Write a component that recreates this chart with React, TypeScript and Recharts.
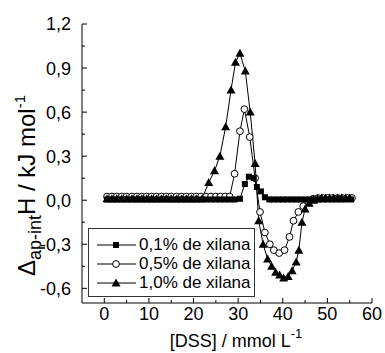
import { LineChart, Line, XAxis, YAxis, Legend } from 'recharts';

// [DSS] / mmol L-1 and enthalpy (kJ mol-1)
const conc01 = [0.6, 1.7, 2.8, 3.9, 5.0, 6.2, 7.3, 8.4, 9.5, 10.6, 11.7, 12.8, 13.9, 15.0, 16.2, 17.3, 18.4, 19.5, 20.6, 21.7, 22.8, 23.9, 25.0, 26.0, 27.1, 28.1, 29.2, 30.4, 31.5, 32.4, 33.5, 34.2, 35.1, 36.0, 37.0, 38.0, 39.0, 40.0, 41.0, 42.0, 43.0, 44.0, 45.0, 46.0, 47.0, 48.0, 49.0, 50.0, 51.0, 52.0, 53.0, 54.0, 55.3];
const dh01 = [0.005, 0.005, 0.005, 0.005, 0.005, 0.005, 0.005, 0.005, 0.005, 0.005, 0.005, 0.005, 0.005, 0.005, 0.005, 0.005, 0.005, 0.005, 0.005, 0.005, 0.005, 0.005, 0.005, 0.005, 0.005, 0.005, 0.005, 0.01, 0.11, 0.16, 0.15, 0.09, 0.06, 0.02, 0.005, 0.005, 0.005, 0.005, 0.005, 0.005, 0.005, 0.005, 0.005, 0.005, 0.005, 0.005, 0.005, 0.005, 0.005, 0.005, 0.005, 0.005, 0.005];

const conc05 = [0.6, 1.7, 2.8, 3.9, 5.0, 6.2, 7.3, 8.4, 9.5, 10.6, 11.7, 12.8, 13.9, 15.0, 16.2, 17.3, 18.4, 19.5, 20.6, 21.7, 22.8, 23.9, 25.0, 26.0, 27.1, 28.1, 29.2, 30.4, 31.4, 32.6, 33.8, 34.9, 36.0, 37.1, 38.0, 39.2, 40.4, 41.5, 42.4, 43.5, 44.6, 45.7, 46.8, 47.9, 49.0, 50.1, 51.2, 52.3, 53.4, 54.5, 55.5];
const dh05 = [0.025, 0.025, 0.025, 0.025, 0.025, 0.025, 0.025, 0.025, 0.025, 0.025, 0.025, 0.025, 0.025, 0.025, 0.025, 0.025, 0.025, 0.025, 0.025, 0.025, 0.025, 0.025, 0.025, 0.025, 0.025, 0.025, 0.18, 0.47, 0.62, 0.43, 0.15, -0.08, -0.22, -0.3, -0.34, -0.36, -0.34, -0.25, -0.14, -0.08, -0.04, -0.01, 0.01, 0.015, 0.015, 0.015, 0.015, 0.015, 0.015, 0.015, 0.015];

const conc10 = [0.6, 1.7, 2.8, 3.9, 5.0, 6.2, 7.3, 8.4, 9.5, 10.6, 11.7, 12.8, 13.9, 15.0, 16.2, 17.3, 18.4, 19.5, 20.6, 21.9, 23.4, 24.7, 25.9, 27.2, 28.4, 29.4, 30.4, 31.6, 32.7, 33.8, 34.6, 35.6, 36.6, 37.5, 38.4, 39.3, 40.2, 41.2, 42.1, 43.0, 43.6, 44.3, 45.0, 45.9, 46.9, 47.8, 48.7, 49.6, 50.5, 51.4, 52.3, 53.2, 54.1, 55.0];
const dh10 = [0.01, 0.01, 0.01, 0.01, 0.01, 0.01, 0.01, 0.01, 0.01, 0.01, 0.01, 0.01, 0.01, 0.01, 0.01, 0.01, 0.01, 0.01, 0.01, 0.01, 0.12, 0.2, 0.3, 0.5, 0.75, 0.94, 1.0, 0.88, 0.6, 0.25, -0.14, -0.3, -0.4, -0.45, -0.49, -0.51, -0.53, -0.52, -0.48, -0.42, -0.34, -0.15, -0.06, -0.02, 0.0, 0.01, 0.015, 0.015, 0.015, 0.015, 0.015, 0.015, 0.015, 0.015];

const xTicks = [0, 5, 10, 15, 20, 25, 30, 35, 40, 45, 50, 55, 60];
const yTicks = [-0.6, -0.45, -0.3, -0.15, 0, 0.15, 0.3, 0.45, 0.6, 0.75, 0.9, 1.05, 1.2];

const FONT = 'Arial, "Liberation Sans", sans-serif';

const toPoints = (xs: number[], ys: number[]) => xs.map((c, i) => ({ c, h: ys[i] }));

function Square({ cx, cy }: { cx: number; cy: number }) {
  return <rect x={cx - 3} y={cy - 3} width={6} height={6} fill="#000" />;
}
function Circle({ cx, cy }: { cx: number; cy: number }) {
  return <circle cx={cx} cy={cy} r={3.4} fill="#fff" stroke="#000" strokeWidth={1} />;
}
function Triangle({ cx, cy }: { cx: number; cy: number }) {
  return <polygon points={`${cx},${cy - 4.5} ${cx + 4.5},${cy + 3.5} ${cx - 4.5},${cy + 3.5}`} fill="#000" />;
}

const series = [
  { key: 'x05', name: '0,5% de xilana', data: toPoints(conc05, dh05), Marker: Circle },
  { key: 'x01', name: '0,1% de xilana', data: toPoints(conc01, dh01), Marker: Square },
  { key: 'x10', name: '1,0% de xilana', data: toPoints(conc10, dh10), Marker: Triangle },
];
const legendOrder = ['x01', 'x05', 'x10'];

const fmt = (v: number) => v.toFixed(1).replace('.', ',');

function XTick(props: any) {
  const { x, y, payload } = props;
  const v = payload.value as number;
  const major = v % 10 === 0;
  const axisY = y - 4;
  return (
    <g>
      <line x1={x} x2={x} y1={axisY} y2={axisY - (major ? 5 : 3)} stroke="#000" />
      {major && (
        <text x={x} y={y} dy="0.72em" textAnchor="middle" fontSize={18} fontFamily={FONT} fill="#000">
          {v}
        </text>
      )}
    </g>
  );
}

function YTick(props: any) {
  const { x, y, payload } = props;
  const v = payload.value as number;
  const major = Math.round(v * 100) % 30 === 0;
  const axisX = x + 11;
  return (
    <g>
      <line x1={axisX} x2={axisX + (major ? 5 : 3)} y1={y} y2={y} stroke="#000" />
      {major && (
        <text x={x} y={y} dy="0.36em" textAnchor="end" fontSize={18} fontFamily={FONT} fill="#000">
          {fmt(v)}
        </text>
      )}
    </g>
  );
}

function YTitle(props: any) {
  const vb = props.viewBox;
  const cx = vb.x + 35;
  const cy = vb.y + vb.height / 2 + 22;
  return (
    <text
      x={cx}
      y={cy}
      transform={`rotate(-90, ${cx}, ${cy})`}
      textAnchor="middle"
      fontSize={24}
      fontFamily={FONT}
      fill="#000"
    >
      <tspan>Δ</tspan>
      <tspan fontSize={18} dy={6}>ap-int</tspan>
      <tspan dy={-6}>H / kJ mol</tspan>
      <tspan fontSize={15} dy={-10}>-1</tspan>
    </text>
  );
}

function XTitle(props: any) {
  const vb = props.viewBox;
  const cx = vb.x + vb.width / 2 + 9;
  const cy = vb.y + 44;
  return (
    <text x={cx} y={cy} textAnchor="middle" fontSize={18} fontFamily={FONT} fill="#000">
      <tspan>[DSS] / mmol L</tspan>
      <tspan fontSize={13} dy={-9}>-1</tspan>
    </text>
  );
}

function LegendBox() {
  return (
    <div
      style={{
        border: '1px solid #333',
        background: '#fff',
        width: 167,
        height: 69,
        boxSizing: 'border-box',
        padding: '6px 0 0 6px',
        fontFamily: FONT,
        fontSize: 17,
        color: '#000',
      }}
    >
      {legendOrder.map((k) => {
        const s = series.find((d) => d.key === k)!;
        const M = s.Marker;
        return (
          <div key={k} style={{ display: 'flex', alignItems: 'center', height: 19 }}>
            <svg width={42} height={12} style={{ marginRight: 2 }}>
              <line x1={2} x2={41} y1={6} y2={6} stroke="#000" />
              <M cx={21} cy={6} />
            </svg>
            <span>{s.name}</span>
          </div>
        );
      })}
    </div>
  );
}

export default function App() {
  return (
    <div style={{ position: 'absolute', left: 0, top: 0 }}>
      <LineChart width={385} height={353} margin={{ top: 24, right: 13, bottom: 0, left: 0 }}>
        <XAxis
          dataKey="c"
          type="number"
          domain={[-5, 60]}
          ticks={xTicks}
          interval={0}
          tickSize={0}
          tickMargin={4}
          tick={<XTick />}
          height={50}
          axisLine={{ stroke: '#000' }}
          allowDataOverflow
          label={<XTitle />}
        />
        <XAxis
          xAxisId="top"
          orientation="top"
          type="number"
          domain={[-5, 60]}
          tick={false}
          tickLine={false}
          height={0}
          axisLine={{ stroke: '#000' }}
        />
        <YAxis
          type="number"
          domain={[-0.7, 1.2]}
          ticks={yTicks}
          interval={0}
          tickSize={0}
          tickMargin={11}
          tick={<YTick />}
          width={82}
          axisLine={{ stroke: '#000' }}
          allowDataOverflow
          label={<YTitle />}
        />
        <YAxis
          yAxisId="right"
          orientation="right"
          type="number"
          domain={[-0.7, 1.2]}
          tick={false}
          tickLine={false}
          width={0}
          axisLine={{ stroke: '#000' }}
        />
        {series.map((s) => (
          <Line
            key={s.key}
            data={s.data}
            dataKey="h"
            name={s.name}
            type="linear"
            stroke="#000"
            strokeWidth={1}
            isAnimationActive={false}
            dot={(p: any) => <s.Marker key={`${s.key}-${p.index}`} cx={p.cx} cy={p.cy} />}
            activeDot={false}
          />
        ))}
        <Legend
          layout="vertical"
          align="center"
          verticalAlign="middle"
          content={<LegendBox />}
          wrapperStyle={{ position: 'absolute', left: 88, top: 228, width: 'auto' }}
        />
      </LineChart>
    </div>
  );
}
